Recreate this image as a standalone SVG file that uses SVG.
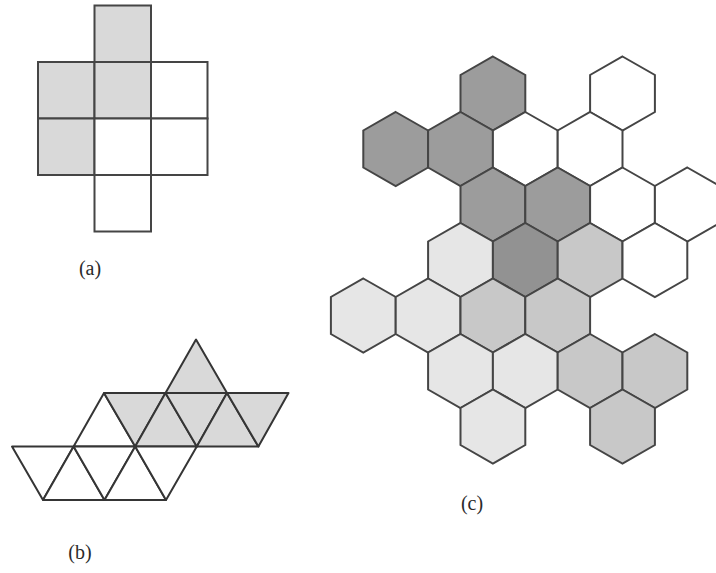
<svg xmlns="http://www.w3.org/2000/svg" xmlns:xlink="http://www.w3.org/1999/xlink" width="716" height="573" viewBox="0 0 716 573">
<defs>
<style>
.sq{stroke:#454545;stroke-width:2;}
.g{fill:#d9d9d9;}
.w{fill:#ffffff;}
.tri{stroke:#353535;stroke-width:2;stroke-linejoin:round;}
.hx{stroke:#454545;stroke-width:2;stroke-linejoin:miter;}
.dk{fill:#9c9c9c;}
.dk2{fill:#929292;}
.md{fill:#c8c8c8;}
.lt{fill:#e6e6e6;}
.lbl{font-family:"Liberation Serif","Times New Roman",serif;font-size:20px;fill:#2a2a2a;text-anchor:middle;}
</style>
<polygon id="hex" points="0,-37 32.4,-18.5 32.4,18.5 0,37 -32.4,18.5 -32.4,-18.5"/>
</defs>
<rect width="716" height="573" fill="#ffffff"/>

<g id="fig-a">
<rect class="sq g" x="94.5" y="5.5" width="56.5" height="56.5"/>
<rect class="sq g" x="38" y="62" width="56.5" height="56.5"/>
<rect class="sq g" x="94.5" y="62" width="56.5" height="56.5"/>
<rect class="sq w" x="151" y="62" width="56.5" height="56.5"/>
<rect class="sq g" x="38" y="118.5" width="56.5" height="56.5"/>
<rect class="sq w" x="94.5" y="118.5" width="56.5" height="56.5"/>
<rect class="sq w" x="151" y="118.5" width="56.5" height="56.5"/>
<rect class="sq w" x="94.5" y="175" width="56.5" height="56.5"/>
<text class="lbl" x="90" y="275">(a)</text>
</g>

<g id="fig-b">
<polygon class="tri g" points="196,339.5 165.5,393 227,393"/>
<polygon class="tri w" points="73.6,446.5 135.2,446.5 104,393"/>
<polygon class="tri g" points="104,393 165.5,393 135.2,446.5"/>
<polygon class="tri g" points="135.2,446.5 196.8,446.5 165.5,393"/>
<polygon class="tri g" points="165.5,393 227,393 196.8,446.5"/>
<polygon class="tri g" points="196.8,446.5 258.4,446.5 227,393"/>
<polygon class="tri g" points="227,393 288.5,393 258.4,446.5"/>
<polygon class="tri w" points="12,446.5 73.6,446.5 43,500"/>
<polygon class="tri w" points="43,500 104.5,500 73.6,446.5"/>
<polygon class="tri w" points="73.6,446.5 135.2,446.5 104.5,500"/>
<polygon class="tri w" points="104.5,500 166,500 135.2,446.5"/>
<polygon class="tri w" points="135.2,446.5 196.8,446.5 166,500"/>
<text class="lbl" x="80" y="559">(b)</text>
</g>

<g id="fig-c">
<use xlink:href="#hex" href="#hex" class="hx dk" x="492.9" y="93.5"/>
<use xlink:href="#hex" href="#hex" class="hx w" x="622.5" y="93.5"/>
<use xlink:href="#hex" href="#hex" class="hx dk" x="395.7" y="149"/>
<use xlink:href="#hex" href="#hex" class="hx dk" x="460.5" y="149"/>
<use xlink:href="#hex" href="#hex" class="hx w" x="525.3" y="149"/>
<use xlink:href="#hex" href="#hex" class="hx w" x="590.1" y="149"/>
<use xlink:href="#hex" href="#hex" class="hx dk" x="492.9" y="204.5"/>
<use xlink:href="#hex" href="#hex" class="hx dk" x="557.7" y="204.5"/>
<use xlink:href="#hex" href="#hex" class="hx w" x="622.5" y="204.5"/>
<use xlink:href="#hex" href="#hex" class="hx w" x="687.3" y="204.5"/>
<use xlink:href="#hex" href="#hex" class="hx lt" x="460.5" y="260"/>
<use xlink:href="#hex" href="#hex" class="hx dk2" x="525.3" y="260"/>
<use xlink:href="#hex" href="#hex" class="hx md" x="590.1" y="260"/>
<use xlink:href="#hex" href="#hex" class="hx w" x="654.9" y="260"/>
<use xlink:href="#hex" href="#hex" class="hx lt" x="363.3" y="315.5"/>
<use xlink:href="#hex" href="#hex" class="hx lt" x="428.1" y="315.5"/>
<use xlink:href="#hex" href="#hex" class="hx md" x="492.9" y="315.5"/>
<use xlink:href="#hex" href="#hex" class="hx md" x="557.7" y="315.5"/>
<use xlink:href="#hex" href="#hex" class="hx lt" x="460.5" y="371"/>
<use xlink:href="#hex" href="#hex" class="hx lt" x="525.3" y="371"/>
<use xlink:href="#hex" href="#hex" class="hx md" x="590.1" y="371"/>
<use xlink:href="#hex" href="#hex" class="hx md" x="654.9" y="371"/>
<use xlink:href="#hex" href="#hex" class="hx lt" x="492.9" y="426.5"/>
<use xlink:href="#hex" href="#hex" class="hx md" x="622.5" y="426.5"/>
<text class="lbl" x="472" y="510">(c)</text>
</g>
</svg>
